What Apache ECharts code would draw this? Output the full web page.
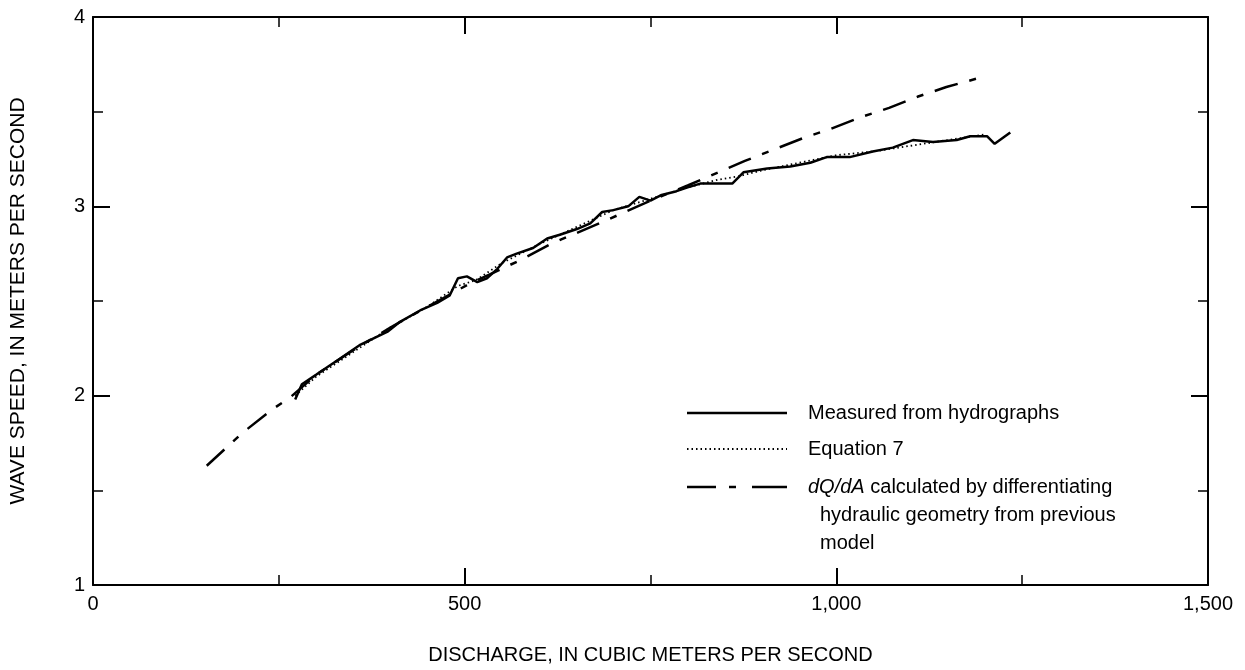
<!DOCTYPE html>
<html>
<head>
<meta charset="utf-8">
<script src="https://cdn.jsdelivr.net/npm/echarts@6/dist/echarts.min.js"></script>
<style>
  html, body { margin: 0; padding: 0; background: #fff; }
  #chart { width: 1245px; height: 670px; }
</style>
</head>
<body>
<div id="chart"></div>
<script>
// Wave speed versus discharge: [discharge m3/s, wave speed m/s]
const measured = [
  [272, 1.98], [281, 2.06], [300, 2.11], [330, 2.19], [360, 2.27], [397, 2.34],
  [413, 2.39], [440, 2.45], [463, 2.49], [480, 2.53], [491, 2.62], [503, 2.63],
  [517, 2.60], [530, 2.62], [544, 2.67], [557, 2.73], [570, 2.75], [592, 2.78],
  [611, 2.83], [628, 2.85], [651, 2.88], [669, 2.91], [685, 2.97], [700, 2.98],
  [720, 3.00], [735, 3.05], [750, 3.03], [765, 3.06], [785, 3.08], [800, 3.10],
  [817, 3.12], [841, 3.12], [860, 3.12], [875, 3.18], [907, 3.20], [938, 3.21],
  [965, 3.23], [987, 3.26], [1018, 3.26], [1049, 3.29], [1076, 3.31], [1103, 3.35],
  [1130, 3.34], [1162, 3.35], [1180, 3.37], [1203, 3.37], [1213, 3.33], [1234, 3.39]
];

const equation7 = [
  [272, 2.00], [300, 2.10], [350, 2.23], [400, 2.36], [450, 2.47], [491, 2.58],
  [515, 2.61], [550, 2.70], [600, 2.80], [650, 2.89], [700, 2.98], [750, 3.04],
  [800, 3.10], [840, 3.14], [870, 3.16], [900, 3.19], [950, 3.23], [1000, 3.27],
  [1050, 3.29], [1100, 3.32], [1150, 3.35], [1200, 3.38]
];

const dQdA = [
  [153, 1.63], [200, 1.80], [242, 1.93], [265, 1.99], [300, 2.11], [350, 2.24],
  [400, 2.36], [450, 2.47], [506, 2.59], [539, 2.65], [577, 2.72], [615, 2.80],
  [651, 2.86], [687, 2.92], [750, 3.03], [800, 3.11], [877, 3.24], [916, 3.30],
  [955, 3.36], [993, 3.41], [1032, 3.47], [1071, 3.52], [1110, 3.58], [1148, 3.63],
  [1203, 3.69]
];

const xTicks = { min: 0, max: 1500, interval: 500 };
const yTicks = { min: 1, max: 4, interval: 1 };

const legendItems = [
  'Measured from hydrographs',
  'Equation 7',
  'calculated by differentiating',
  'hydraulic geometry from previous',
  'model'
];

const FONT = '"Liberation Sans", Arial, sans-serif';
const INK = '#000';

const chart = echarts.init(document.getElementById('chart'));

function axisBase(extra) {
  return Object.assign({
    axisLine: { show: true, onZero: false, lineStyle: { color: INK, width: 2 } },
    axisTick: { show: true, inside: true, length: 17, lineStyle: { color: INK, width: 2 } },
    minorTick: { show: true, splitNumber: 2, length: 10, lineStyle: { color: INK, width: 1.5 } },
    splitLine: { show: false },
    minorSplitLine: { show: false }
  }, extra);
}

const lineSeries = (name, data, type, width) => ({
  name, type: 'line', data, symbol: 'none', smooth: false,
  lineStyle: { color: INK, width, type }
});

const keyText = (text, x, y, rich) => ({
  type: 'text', x, y,
  style: Object.assign({
    text, font: '20px ' + FONT, fill: INK, verticalAlign: 'middle', textVerticalAlign: 'middle'
  }, rich ? { rich } : {})
});

chart.setOption({
  animation: false,
  backgroundColor: '#fff',
  grid: { left: 93, right: 37, top: 17, bottom: 85 },
  xAxis: [
    axisBase({
      type: 'value', position: 'bottom', min: xTicks.min, max: xTicks.max, interval: xTicks.interval,
      name: 'DISCHARGE, IN CUBIC METERS PER SECOND', nameLocation: 'middle', nameGap: 60,
      nameTextStyle: { fontFamily: FONT, fontSize: 20, color: INK },
      axisLabel: {
        margin: 9, fontFamily: FONT, fontSize: 20, color: INK,
        formatter: v => v.toLocaleString('en-US')
      }
    }),
    axisBase({
      type: 'value', position: 'top', min: xTicks.min, max: xTicks.max, interval: xTicks.interval,
      axisLabel: { show: false }
    })
  ],
  yAxis: [
    axisBase({
      type: 'value', position: 'left', min: yTicks.min, max: yTicks.max, interval: yTicks.interval,
      name: 'WAVE SPEED, IN METERS PER SECOND', nameLocation: 'middle', nameGap: 64,
      nameTextStyle: { fontFamily: FONT, fontSize: 21, color: INK },
      axisLabel: { margin: 8, fontFamily: FONT, fontSize: 20, color: INK }
    }),
    axisBase({
      type: 'value', position: 'right', min: yTicks.min, max: yTicks.max, interval: yTicks.interval,
      axisLabel: { show: false }
    })
  ],
  series: [
    lineSeries('Measured from hydrographs', measured, 'solid', 2.5),
    lineSeries('Equation 7', equation7, [1.5, 3], 1.8),
    lineSeries('dQ/dA', dQdA, [24, 12, 7, 12], 2.5)
  ],
  graphic: [
    // key samples
    { type: 'line', shape: { x1: 687, y1: 413, x2: 787, y2: 413 }, style: { stroke: INK, lineWidth: 2.5 } },
    { type: 'line', shape: { x1: 687, y1: 449, x2: 787, y2: 449 }, style: { stroke: INK, lineWidth: 1.8, lineDash: [1.5, 3] } },
    { type: 'line', shape: { x1: 687, y1: 487, x2: 716, y2: 487 }, style: { stroke: INK, lineWidth: 2.5 } },
    { type: 'line', shape: { x1: 729, y1: 487, x2: 736, y2: 487 }, style: { stroke: INK, lineWidth: 2.5 } },
    { type: 'line', shape: { x1: 752, y1: 487, x2: 787, y2: 487 }, style: { stroke: INK, lineWidth: 2.5 } },
    // key labels
    keyText(legendItems[0], 808, 413),
    keyText(legendItems[1], 808, 449),
    keyText('{i|dQ/dA} ' + legendItems[2], 808, 487, {
      i: { fontStyle: 'italic', fontFamily: FONT, fontSize: 20, fill: INK }
    }),
    keyText(legendItems[3], 820, 515),
    keyText(legendItems[4], 820, 543)
  ]
});
</script>
</body>
</html>
